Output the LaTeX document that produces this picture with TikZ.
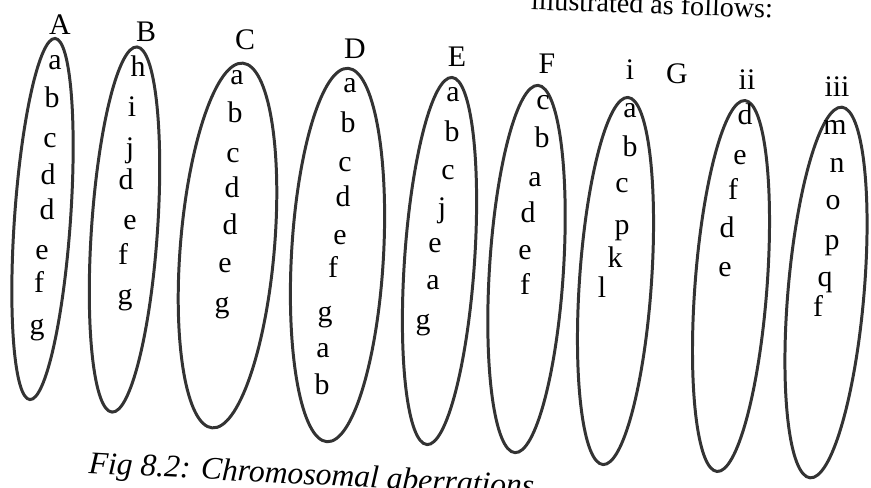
\documentclass[tikz,border=0pt]{standalone}
\usepackage{fontspec}
\setmainfont{Liberation Serif}

\begin{document}
\begin{tikzpicture}[x=0.02cm, y=-0.02cm, font=\fontsize{17}{20}\selectfont,
		chrom/.style={draw=black!80, line width=1.7pt},
		gene/.style={inner sep=0pt, text height=1.2ex, text depth=0pt},
		lab/.style={inner sep=0pt, text height=1.5ex, text depth=0pt}]
	\useasboundingbox (0,0) rectangle (871,487);
	\clip (0,0) rectangle (871,487);
	% chromosomes: centre x/centre y/half length/half width/tilt
	\foreach \cx/\cy/\ra/\rb/\t in {42.5/219/181/28/4, 124.5/229.5/183/33/3.9,
			227.5/245.5/183/47/4.8, 337.5/255/187/46/3.2, 439.5/261/184/35/3.9,
			526.5/269/184/37/3.6, 615.5/281/184/36/3.9, 731/286/186/36/4.3,
			826/292.5/186/38/4.9} {
		\draw[chrom, rotate around={-\t:(\cx,\cy)}] (\cx,\cy) ellipse [x radius=\rb, y radius=\ra];
	}
	% labels over the chromosomes
	\foreach \l/\x/\y [count=\k] in {A/60/28, B/146/35, C/245/43, D/355/52, E/457/60,
			F/547/67, i/630/73, G/677/77, ii/747/83, iii/837/90} {
		\node[lab] (lab\k) at (\x,\y) {\l};
	}
	% gene orders
	\foreach \g/\x/\y [count=\k] in {a/55/65, b/52/103, c/50/143, d/48/180, d/47/215,
			e/42/255, f/39/288, g/37/330}
		\node[gene] (A\k) at (\x,\y) {\g};
	\foreach \g/\x/\y [count=\k] in {h/138/72, i/132/112, j/130/153, d/126/185,
			e/130/225, f/123/260, g/125/300}
		\node[gene] (B\k) at (\x,\y) {\g};
	\foreach \g/\x/\y [count=\k] in {a/237/80, b/235/118, c/233/158, d/232/193,
			d/230/230, e/225/268, g/222/308}
		\node[gene] (C\k) at (\x,\y) {\g};
	\foreach \g/\x/\y [count=\k] in {a/350/88, b/348/128, c/345/167, d/343/202,
			e/340/240, f/333/273, g/325/317, a/323/353, b/322/390}
		\node[gene] (D\k) at (\x,\y) {\g};
	\foreach \g/\x/\y [count=\k] in {a/453/97, b/452/137, c/448/175, j/442/213,
			e/435/248, a/433/285, g/423/325}
		\node[gene] (E\k) at (\x,\y) {\g};
	\foreach \g/\x/\y [count=\k] in {c/543/105, b/542/143, a/535/182, d/528/218,
			e/525/255, f/525/290}
		\node[gene] (F\k) at (\x,\y) {\g};
	% G: three chromosomes
	\foreach \g/\x/\y [count=\k] in {a/630/113, b/630/152, c/622/188, p/622/230,
			k/615/263, l/602/293}
		\node[gene] (Gi\k) at (\x,\y) {\g};
	\foreach \g/\x/\y [count=\k] in {d/745/120, e/740/160, f/733/195, d/727/233,
			e/725/272}
		\node[gene] (Gii\k) at (\x,\y) {\g};
	\foreach \g/\x/\y [count=\k] in {m/835/130, n/837/168, o/833/205, p/832/245,
			q/825/282, f/818/312}
		\node[gene] (Giii\k) at (\x,\y) {\g};
	% text cut by the page edges
	\node[anchor=base east, inner sep=0pt, rotate=-2, font=\fontsize{16}{19}\selectfont]
		(head) at (773,18) {illustrated as follows:};
	\node[anchor=base west, inner sep=0pt, rotate=-3, font=\fontsize{18}{21}\selectfont\itshape]
		(cap) at (88,473) {Fig 8.2: Chromosomal aberrations};
\end{tikzpicture}
\end{document}
